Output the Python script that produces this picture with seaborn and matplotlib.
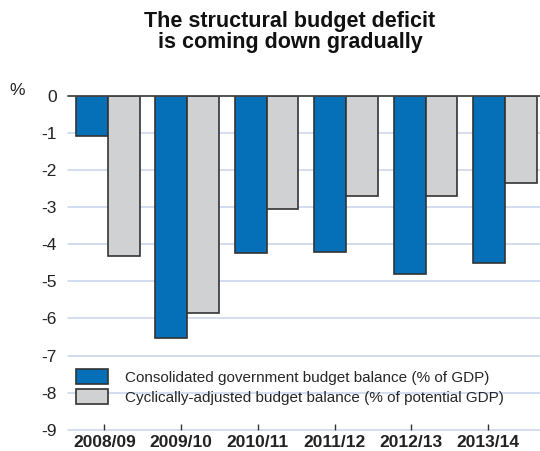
import matplotlib
matplotlib.use("Agg")
import matplotlib.pyplot as plt
import seaborn as sns
import pandas as pd

years = ["2008/09", "2009/10", "2010/11", "2011/12", "2012/13", "2013/14"]
consolidated = [-1.1, -6.52, -4.23, -4.2, -4.8, -4.5]
cyclically = [-4.31, -5.85, -3.05, -2.71, -2.71, -2.35]
series_names = ["Consolidated government budget balance (% of GDP)",
                "Cyclically-adjusted budget balance (% of potential GDP)"]
yticks = [0, -1, -2, -3, -4, -5, -6, -7, -8, -9]

df = pd.DataFrame({
    "year": years * 2,
    "value": consolidated + cyclically,
    "series": [series_names[0]] * len(years) + [series_names[1]] * len(years),
})

sns.set_theme(style="white")
plt.rcParams['font.family'] = ['Liberation Sans', 'DejaVu Sans']

fig = plt.figure(figsize=(5.4, 4.51), dpi=100)
ax = fig.add_axes([0.126, 0.047, 0.874, 0.741])

for y in yticks[1:]:
    ax.axhline(y, color="#cdd8ef", lw=1.2, zorder=0, clip_on=False)

sns.barplot(data=df, x="year", y="value", hue="series",
            palette=["#0570b8", "#d0d1d3"], width=0.8, gap=0,
            edgecolor="#333333", linewidth=1.2, saturation=1, ax=ax, zorder=2)

ax.axhline(0, color="#444444", lw=1.3, zorder=3, clip_on=False)

ax.set_ylim(-9, 0)
ax.set_xlim(-0.5, 5.44)
ax.set_yticks(yticks)
ax.set_yticklabels([str(t) for t in yticks], fontsize=12.5)
# tick marks in the original are spaced slightly tighter than the bar groups
tick_pos = [i * 0.966 - 0.044 for i in range(len(years))]
ax.set_xticks(tick_pos)
ax.set_xticklabels(years, fontsize=12.5, fontweight="bold", color="#222222")
ax.tick_params(axis="x", direction="in", length=4, width=1, color="#333333", pad=4, bottom=True)
ax.tick_params(axis="y", length=0, pad=8, labelcolor="#222222")
ax.set_xlabel("")
ax.set_ylabel("")
for s in ax.spines.values():
    s.set_visible(False)

leg = ax.legend(loc="lower left", bbox_to_anchor=(-0.012, 0.034), frameon=False,
                fontsize=11, handlelength=2.1, handleheight=1.1,
                handletextpad=1.1, labelspacing=0.3, borderaxespad=0.5)
for h in leg.legend_handles:
    h.set_edgecolor("#333333")
    h.set_linewidth(1.2)

fig.text(0.537, 0.929, "The structural budget deficit\nis coming down gradually",
         ha="center", va="center", fontsize=15.5, fontweight="bold",
         color="#111111", linespacing=1.0)
fig.text(0.018, 0.80, "%", fontsize=12.5, color="#222222", ha="left", va="center")

fig.savefig("out.png", dpi=100)
